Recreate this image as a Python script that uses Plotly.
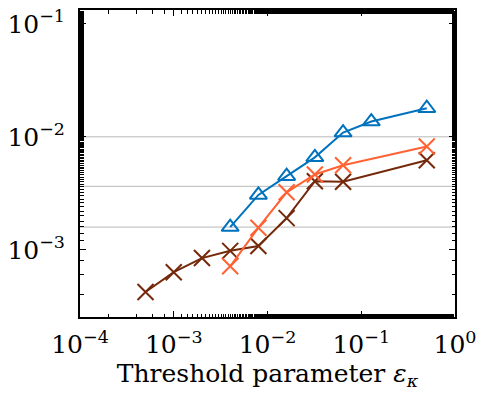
import plotly.graph_objects as go

# Data
eps_blue = [0.004, 0.008, 0.016, 0.032, 0.064, 0.128, 0.5]
err_blue = [1.59e-3, 3.06e-3, 4.49e-3, 6.58e-3, 1.09e-2, 1.365e-2, 1.79e-2]

eps_orange = [0.004, 0.008, 0.016, 0.032, 0.064, 0.5]
err_orange = [7.15e-4, 1.57e-3, 3.23e-3, 4.64e-3, 5.6e-3, 8.2e-3]

eps_brown = [0.0005, 0.001, 0.002, 0.004, 0.008, 0.016, 0.032, 0.064, 0.5]
err_brown = [4.24e-4, 6.34e-4, 8.46e-4, 9.8e-4, 1.08e-3, 1.91e-3, 4.05e-3, 4.0e-3, 6.2e-3]

ref_levels = [1e-2, 3.65e-3, 1.59e-3]

x_tickvals = [1e-4, 1e-3, 1e-2, 1e-1, 1e0]
x_ticktext = ["10<sup>−4</sup>", "10<sup>−3</sup>", "10<sup>−2</sup>", "10<sup>−1</sup>", "10<sup>0</sup>"]
y_tickvals = [1e-3, 1e-2, 1e-1]
y_ticktext = ["10<sup>−3</sup>", "10<sup>−2</sup>", "10<sup>−1</sup>"]

BLUE = "#0072BD"
ORANGE = "#FF6233"
BROWN = "#74290B"

fig = go.Figure()

for lv in ref_levels:
    fig.add_shape(type="line", xref="paper", x0=0, x1=1, yref="y", y0=lv, y1=lv,
                  line=dict(color="#B8B8B8", width=1), layer="below")

fig.add_trace(go.Scatter(x=eps_brown, y=err_brown, mode="lines+markers",
                         line=dict(color=BROWN, width=2),
                         marker=dict(symbol="x-thin-open", size=16, color=BROWN,
                                     line=dict(color=BROWN, width=2))))
fig.add_trace(go.Scatter(x=eps_orange, y=err_orange, mode="lines+markers",
                         line=dict(color=ORANGE, width=2),
                         marker=dict(symbol="x-thin-open", size=16, color=ORANGE,
                                     line=dict(color=ORANGE, width=2))))
fig.add_trace(go.Scatter(x=eps_blue, y=err_blue, mode="lines+markers",
                         line=dict(color=BLUE, width=2),
                         marker=dict(symbol="triangle-up-open", size=15, color=BLUE,
                                     line=dict(color=BLUE, width=2))))

SERIF = "DejaVu Serif"
TICKFONT = dict(family=SERIF, size=25, color="black")

fig.update_layout(
    width=482, height=399,
    margin=dict(l=80, r=22, t=6, b=82),
    paper_bgcolor="white", plot_bgcolor="white",
    showlegend=False,
    font=dict(family=SERIF, size=25, color="black"),
    xaxis=dict(type="log", range=[-4, 0],
               tickmode="array", tickvals=x_tickvals, ticktext=x_ticktext,
               ticks="inside", ticklen=6, tickwidth=1, tickcolor="black",
               minor=dict(ticks="inside", ticklen=3.5, tickwidth=1, tickcolor="black", showgrid=False),
               showline=True, linecolor="black", linewidth=2, mirror="allticks",
               showgrid=False, zeroline=False, ticklabeloverflow="allow",
               ticklabelstandoff=4,
               title=dict(text="Threshold parameter <i>ε<sub>κ</sub></i>", standoff=4,
                          font=dict(family=SERIF, size=25, color="black")),
               tickfont=TICKFONT),
    yaxis=dict(type="log", range=[-3.594, -0.878],
               tickmode="array", tickvals=y_tickvals, ticktext=y_ticktext,
               ticks="inside", ticklen=6, tickwidth=1, tickcolor="black",
               minor=dict(ticks="inside", ticklen=3.5, tickwidth=1, tickcolor="black", showgrid=False),
               showline=True, linecolor="black", linewidth=2, mirror="allticks",
               showgrid=False, zeroline=False, ticklabeloverflow="allow",
               ticklabelstandoff=8,
               tickfont=TICKFONT),
)

fig.write_html("out.html")
